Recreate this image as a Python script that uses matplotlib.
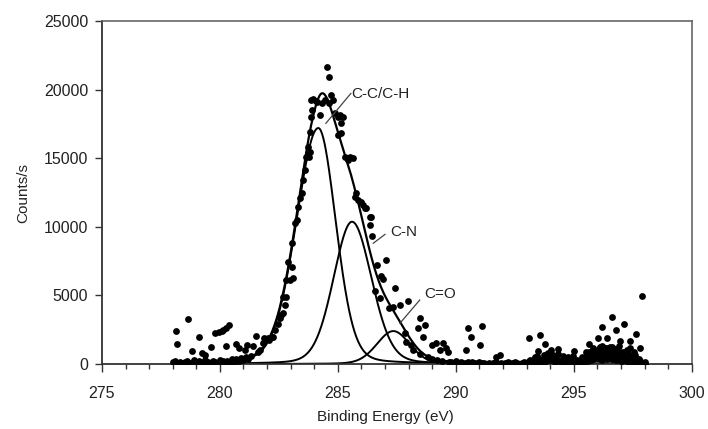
import numpy as np
import matplotlib.pyplot as plt

plt.rcParams['font.family'] = ['Liberation Sans', 'DejaVu Sans']

# measured C1s spectrum (binding energy in eV, counts/s)
base_lo_ev = [278.0, 278.05, 278.1, 278.2, 278.25, 278.3, 278.4, 278.5, 278.55, 278.6,
              278.7, 278.8, 278.9, 278.95, 279.0, 279.1, 279.2, 279.3, 279.35, 279.4,
              279.5, 279.6, 279.7, 279.75, 279.8, 279.9, 280.0, 280.1, 280.15, 280.2,
              280.3, 280.4, 280.5, 280.55, 280.6, 280.7, 280.8, 280.9, 281.0, 281.1,
              281.2, 281.3]
base_lo_cts = [150, 0, 250, 80, 0, 180, 60, 120, 0, 220,
               90, 40, 260, 120, 60, 200, 0, 150, 300, 80,
               140, 20, 220, 90, 160, 40, 280, 120, 200, 60,
               240, 150, 330, 180, 90, 380, 230, 450, 300, 520,
               380, 600]

scatter_lo_ev = [278.12, 278.2, 278.63, 278.83, 279.12, 279.22, 279.38, 279.61, 279.8, 279.97,
                 280.08, 280.14, 280.25, 280.38, 280.24, 280.7, 280.8, 281.05, 281.16, 281.42,
                 281.55, 281.85, 282.1, 282.26]
scatter_lo_cts = [2400, 1480, 3270, 950, 1950, 820, 650, 1260, 2240, 2300,
                  2400, 2480, 2620, 2830, 1290, 1450, 1140, 1020, 1380, 1300,
                  2070, 1900, 1750, 1990]

pk_ev = [281.6, 281.7, 281.84, 282.05, 282.19, 282.33, 282.45, 282.54, 282.6, 282.68,
         282.68, 282.78, 282.82, 282.82, 282.9, 282.97, 283.04, 283.04, 283.1, 283.18,
         283.25, 283.32, 283.39, 283.46, 283.53, 283.6, 283.67, 283.74, 283.78, 283.81,
         283.88, 283.92, 283.95, 284.06, 284.1, 284.24, 284.31, 284.45, 284.52, 284.61,
         284.63, 284.73, 284.8, 284.87, 285.0, 285.08, 285.0, 285.15, 285.15, 285.23,
         285.3, 285.43, 285.5, 285.65, 285.72, 285.79, 285.86, 286.0, 286.07, 286.14,
         286.21, 286.36, 286.42, 286.36, 286.45, 286.64, 286.82, 286.92, 287.04, 286.57,
         286.78, 287.15, 287.34, 287.42, 287.63, 287.98, 287.84, 287.9, 288.12, 288.2,
         288.4, 288.47, 288.5, 288.6, 288.69, 288.8, 288.97, 289.0, 289.18, 289.2,
         289.32, 289.4, 289.46, 289.6, 289.68, 289.7, 283.84, 283.86]
pk_cts = [850, 1000, 1510, 1870, 1990, 2480, 2900, 3330, 3570, 3690,
          4900, 4300, 4900, 6120, 7460, 6120, 7090, 8800, 6250, 10250,
          10500, 11460, 12080, 12500, 13410, 14140, 15110, 15840, 15110, 15470,
          19240, 18500, 19290, 19190, 19120, 18150, 19050, 19240, 21620, 20940,
          19000, 19600, 19240, 18270, 18030, 18150, 16690, 17540, 16810, 18030,
          15110, 14870, 15110, 14990, 12200, 12440, 11950, 11830, 11590, 11340,
          11340, 10740, 10740, 10130, 9300, 7220, 6400, 6180, 7560, 5330,
          4790, 4060, 4180, 5510, 4300, 4610, 2240, 1600, 1380, 1000,
          2600, 3330, 750, 1990, 2840, 500, 1380, 400, 1500, 280,
          1020, 200, 1500, 1140, 900, 150, 16900, 18000]

base_hi_ev = [289.8, 289.9, 290.0, 290.1, 290.2, 290.3, 290.4, 290.5, 290.6, 290.7,
              290.8, 290.9, 291.0, 291.1, 291.2, 291.3, 291.4, 291.5, 291.6, 291.7,
              291.8, 291.9, 292.0, 292.1, 292.2, 292.3, 292.4, 292.5, 292.6, 292.7,
              292.8, 292.9, 293.0, 293.1, 293.2, 293.3, 293.4, 293.5, 293.6, 293.7,
              293.8, 293.9, 294.0, 294.1, 294.2, 294.3, 294.4, 294.5, 294.6, 294.7,
              294.8, 294.9, 295.0, 295.1, 295.2, 295.3, 295.4, 295.5, 295.6, 295.7,
              295.8, 295.9, 296.0, 296.1, 296.2, 296.3, 296.4, 296.5, 296.6, 296.7,
              296.8, 296.9, 297.0, 297.1, 297.2, 297.3, 297.4, 297.5, 297.6, 297.7,
              297.8, 297.9, 298.0]
base_hi_cts = [150, 80, 200, 40, 120, 0, 90, 160, 30, 110,
               60, 0, 140, 50, 100, 20, 80, 0, 60, 150,
               30, 90, 0, 70, 120, 20, 60, 150, 40, 0,
               100, 180, 60, 250, 120, 300, 80, 420, 200, 350,
               150, 480, 260, 380, 120, 300, 200, 90, 250, 150,
               60, 200, 100, 40, 180, 300, 120, 400, 250, 550,
               350, 700, 450, 600, 300, 750, 500, 820, 400, 650,
               300, 550, 200, 480, 350, 150, 300, 120, 250, 80,
               200, 60, 30]

base_hi2_ev = [293.05, 293.25, 293.45, 293.65, 293.85, 294.05, 294.25, 294.45, 294.65, 294.85,
               295.05, 295.25, 295.45, 295.55, 295.65, 295.75, 295.85, 295.95, 296.05, 296.15,
               296.25, 296.35, 296.45, 296.55, 296.65, 296.75, 296.85, 296.95, 297.05, 297.15,
               297.25, 297.35, 297.45, 297.55, 297.65, 297.75]
base_hi2_cts = [80, 150, 600, 100, 700, 350, 550, 150, 400, 300,
                80, 250, 180, 650, 900, 300, 1000, 600, 1100, 800,
                500, 1200, 700, 950, 350, 1100, 600, 850, 250, 700,
                1000, 300, 550, 900, 150, 400]

# second sweep over the noisy high-energy end
base_hi3_ev = [293.15, 293.35, 293.55, 293.75, 293.95, 294.15, 294.35, 294.55, 294.75, 294.95,
               295.15, 295.35, 295.5, 295.6, 295.7, 295.8, 295.9, 296.0, 296.1, 296.2,
               296.3, 296.4, 296.5, 296.6, 296.7, 296.8, 296.9, 297.0, 297.1, 297.2,
               297.3, 297.4, 297.5, 297.6, 297.7]
base_hi3_cts = [300, 500, 200, 650, 450, 250, 700, 350, 150, 600,
                300, 500, 850, 400, 650, 1150, 450, 800, 350, 1300,
                950, 400, 1050, 1250, 750, 450, 1300, 550, 900, 500,
                750, 1150, 250, 650, 300]

scatter_hi_ev = [290.45, 290.52, 290.66, 291.02, 291.13, 291.58, 291.72, 291.86, 293.1, 293.49,
                 293.58, 293.8, 293.91, 294.02, 294.12, 294.33, 294.55, 294.76, 295.0, 295.4,
                 295.64, 295.68, 295.82, 295.95, 296.03, 296.1, 296.21, 296.31, 296.38, 296.43,
                 296.53, 296.6, 296.63, 296.67, 296.81, 296.88, 296.95, 297.12, 297.16, 297.23,
                 297.37, 297.44, 297.63, 297.82, 297.9, 298.03]
scatter_hi_cts = [1020, 2600, 1990, 1380, 2790, 100, 530, 660, 1870, 970,
                  2110, 1430, 780, 1020, 660, 1070, 580, 530, 970, 410,
                  1430, 530, 1020, 780, 1870, 1260, 2720, 1140, 530, 1870,
                  1260, 660, 3450, 1020, 2480, 900, 1680, 2890, 660, 340,
                  1680, 410, 2190, 1190, 4980, 120]

# fitted components
peak_labels = ['C-C/C-H', 'C-N', 'C=O']
peak_centre = [284.17, 285.6, 287.35]
peak_height = [17200, 10370, 2400]
fwhm_left = [2.2, 1.85, 1.65]
fwhm_right = [1.75, 1.95, 1.65]
lorentz_frac = [0.15, 0.15, 0.15]


def peak(x, c, h, wl, wr, m):
    w = np.where(x < c, wl, wr)
    d2 = 4 * (x - c) ** 2 / w ** 2
    return h * ((1 - m) * np.exp(-np.log(2) * d2) + m / (1 + d2))


energy = np.concatenate([base_lo_ev, scatter_lo_ev, pk_ev, base_hi_ev, base_hi2_ev,
                         base_hi3_ev, scatter_hi_ev])
counts = np.concatenate([base_lo_cts, scatter_lo_cts, pk_cts, base_hi_cts, base_hi2_cts,
                         base_hi3_cts, scatter_hi_cts])

fig = plt.figure(figsize=(7.08, 4.29), dpi=100)
ax = fig.add_axes([0.144, 0.1515, 0.833, 0.7995])

ax.scatter(energy, counts, s=24, color='black', linewidths=0, zorder=3)

xs = np.linspace(278, 298, 800)
total = np.zeros_like(xs)
for c, h, wl, wr, m in zip(peak_centre, peak_height, fwhm_left, fwhm_right, lorentz_frac):
    comp = peak(xs, c, h, wl, wr, m)
    total += comp
    ax.plot(xs, comp, color='black', lw=1.4, zorder=2)
ax.plot(xs, total, color='black', lw=1.6, zorder=2)

# leader lines and labels
label_xy = [(285.58, 19650), (287.22, 9600), (288.66, 5080)]
leader_from = [(284.49, 17540), (286.5, 8800), (287.63, 2970)]
leader_to = [(285.55, 19720), (287.0, 9450), (288.47, 4660)]
for lab, (tx, ty), (x0, y0), (x1, y1) in zip(peak_labels, label_xy, leader_from, leader_to):
    ax.plot([x0, x1], [y0, y1], color='#444444', lw=0.9, zorder=4)
    ax.text(tx, ty, lab, fontsize=11, color='#222222', ha='left', va='center')

ax.set_xlim(275, 300)
ax.set_ylim(0, 25000)
ax.set_xticks(np.arange(275, 301, 5))
ax.set_xticks(np.arange(275, 301, 1), minor=True)
ax.set_yticks(np.arange(0, 25001, 5000))
ax.tick_params(axis='x', which='major', direction='out', length=5.5, width=1, pad=10,
               labelsize=11.5, labelcolor='#222222', color='#333333')
ax.tick_params(axis='x', which='minor', direction='out', length=3.5, width=1, color='#333333')
ax.tick_params(axis='y', direction='out', length=5, width=1, pad=5,
               labelsize=11.5, labelcolor='#222222', color='#333333')

for side in ['left', 'bottom']:
    ax.spines[side].set_color('#333333')
    ax.spines[side].set_linewidth(1.3)
for side in ['top', 'right']:
    ax.spines[side].set_color('#666666')
    ax.spines[side].set_linewidth(1.2)

ax.set_xlabel('Binding Energy (eV)', fontsize=11, color='#222222')
ax.set_ylabel('Counts/s', fontsize=11, color='#222222')
ax.xaxis.set_label_coords(0.48, -0.134)
ax.yaxis.set_label_coords(-0.122, 0.5)

fig.savefig('out.png', dpi=100)
